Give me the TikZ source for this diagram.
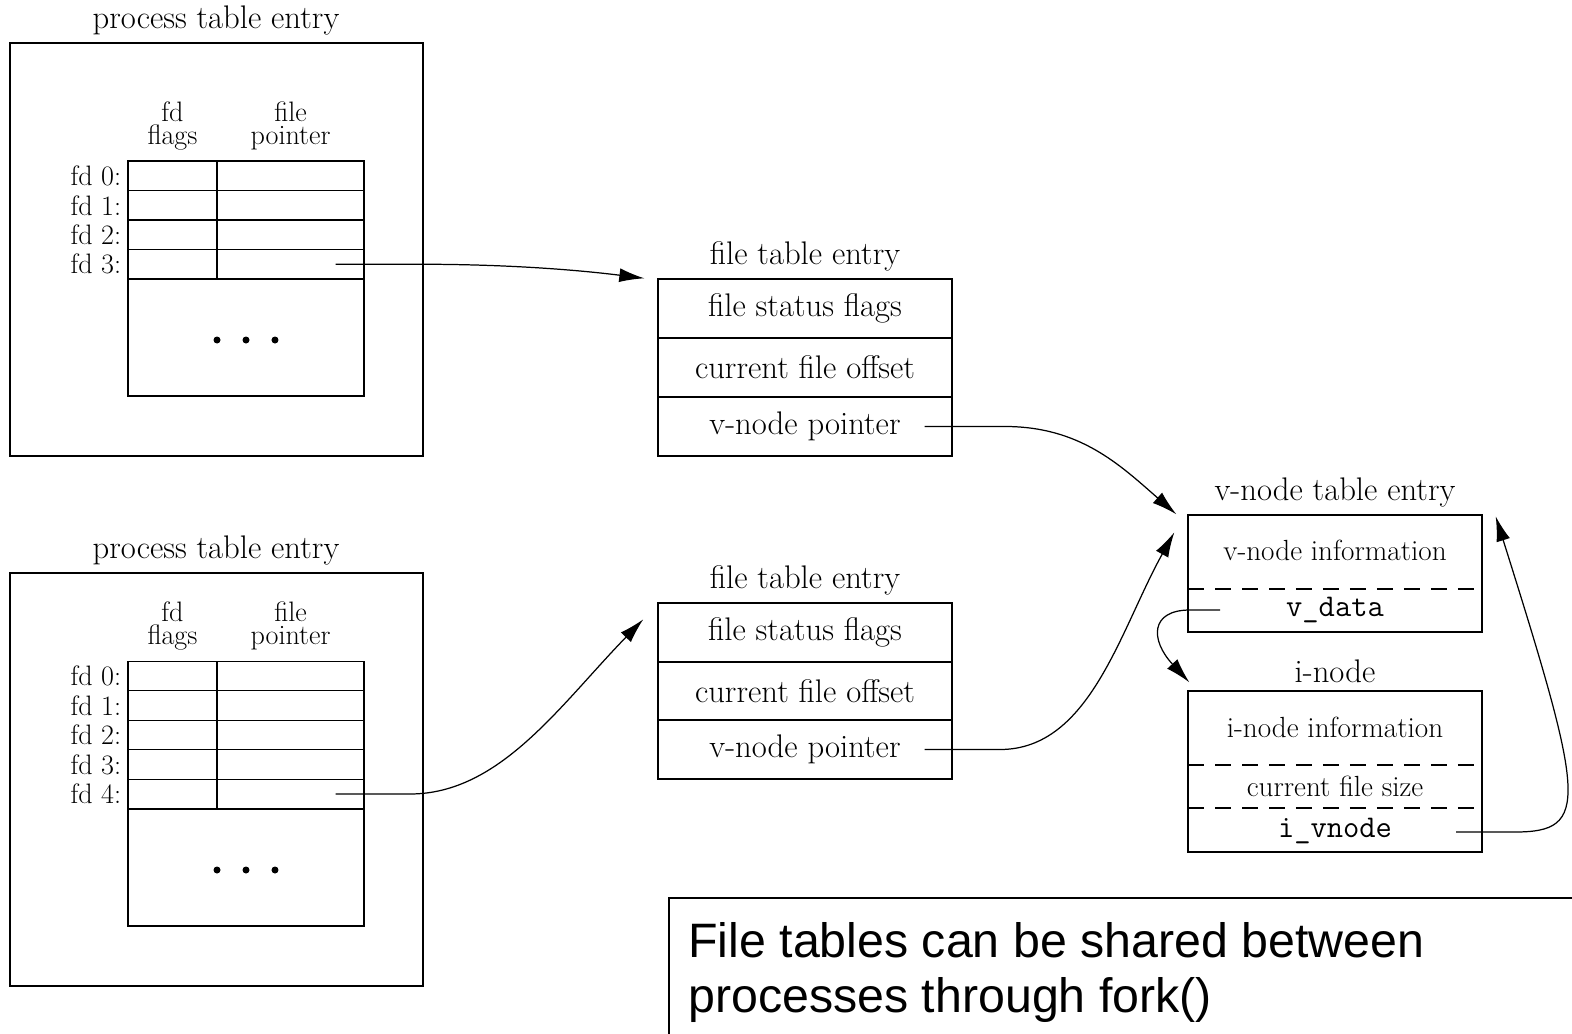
\documentclass[tikz,border=0pt]{standalone}
\usepackage{fontspec}
\usepackage{tikz}
\usetikzlibrary{calc}
\usetikzlibrary{arrows.meta}
\usetikzlibrary{positioning}
\newfontfamily\notefont{Liberation Sans}
\tikzset{>={Latex[length=0.5cm, width=0.28cm]}}
\tikzstyle{box} = [rectangle, draw=black, line width=0.8pt, inner sep=0pt]
\tikzstyle{cell} = [box, minimum height=0.59cm]
\tikzstyle{row} = [box, minimum width=5.88cm, minimum height=1.18cm, font=\fontsize{18.6}{20}\selectfont]
\tikzstyle{head} = [font=\fontsize{18.6}{20}\selectfont]
\tikzstyle{lbl} = [font=\fontsize{16}{18}\selectfont]
\tikzstyle{colhead} = [align=center, inner sep=0pt, font=\fontsize{16}{13}\selectfont]
\tikzstyle{info} = [font=\fontsize{16.6}{18}\selectfont]
\tikzstyle{code} = [font=\ttfamily\fontsize{18}{20}\selectfont]
\tikzstyle{sep} = [line width=0.8pt, dash pattern=on 0.32cm off 0.22cm]
\tikzstyle{ptr} = [->, line width=0.7pt]
\tikzstyle{notetxt} = [anchor=base west, inner sep=0pt, font=\notefont\fontsize{27.5}{31}\selectfont]

\begin{document}
\begin{tikzpicture}[x=0.02cm, y=-0.02cm]
\useasboundingbox (0,0) rectangle (1572,1034);

\node [head] (ta) at (216,20) {process table entry};
\node [box, minimum width=8.26cm, minimum height=8.26cm] (proca) at (216.5,249.5) {};
\node [colhead] (hfa) at (172.5,126) {fd\\flags};
\node [colhead] (hpa) at (290.5,126) {file\\pointer};
\foreach \i in {0,...,3} {
  \node [cell, minimum width=1.78cm] (fa\i) at (172.5,{175.75+29.5*\i}) {};
  \node [cell, minimum width=2.94cm] (pa\i) at (290.5,{175.75+29.5*\i}) {};
  \node [lbl, anchor=east] (la\i) at (fa\i.west) {fd \i:};
}
\node [box, minimum width=4.72cm, minimum height=2.34cm] (dotsa) at (246,337.5) {};
\foreach \dx in {-1,0,1}
  \fill ([xshift=\dx*0.58cm, yshift=-0.05cm]dotsa.center) circle (0.07cm);

\node [head] (tb) at (216,550) {process table entry};
\node [box, minimum width=8.26cm, minimum height=8.26cm] (procb) at (216.5,779.5) {};
\node [colhead] (hfb) at (172.5,626) {fd\\flags};
\node [colhead] (hpb) at (290.5,626) {file\\pointer};
\foreach \i in {0,...,4} {
  \node [cell, minimum width=1.78cm] (fb\i) at (172.5,{676+29.5*\i}) {};
  \node [cell, minimum width=2.94cm] (pb\i) at (290.5,{676+29.5*\i}) {};
  \node [lbl, anchor=east] (lb\i) at (fb\i.west) {fd \i:};
}
\node [box, minimum width=4.72cm, minimum height=2.34cm] (dotsb) at (246,867.5) {};
\foreach \dx in {-1,0,1}
  \fill ([xshift=\dx*0.58cm, yshift=-0.05cm]dotsb.center) circle (0.07cm);

\node [head] (tf1) at (805,256) {file table entry};
\node [row] (fs1) at (805,308.5) {file status flags};
\node [row] (fo1) at (805,367.5) {current file offset};
\node [row] (vp1) at (805,426.5) {v-node pointer};

\node [head] (tf2) at (805,580) {file table entry};
\node [row] (fs2) at (805,632.5) {file status flags};
\node [row] (fo2) at (805,691) {current file offset};
\node [row] (vp2) at (805,749.5) {v-node pointer};

\node [head] (tv) at (1335,492) {v-node table entry};
\node [box, minimum width=5.88cm, minimum height=2.34cm] (vn) at (1335,573.5) {};
\node [info] (vinfo) at (1335,550) {v-node information};
\draw [sep] (1188,589) -- (1482,589);
\node [code] (vdata) at (1335,610) {v\_data};

\node [head] (ti) at (1335,671) {i-node};
\node [box, minimum width=5.88cm, minimum height=3.22cm] (in) at (1335,771.5) {};
\node [info] (iinfo) at (1335,727) {i-node information};
\draw [sep] (1188,765) -- (1482,765);
\node [info] (isize) at (1335,786) {current file size};
\draw [sep] (1188,808) -- (1482,808);
\node [code] (ivn) at (1335,831) {i\_vnode};

\coordinate (sa) at ([xshift=-0.58cm]pa3.east);
\coordinate (sb) at ([xshift=-0.58cm]pb4.east);
\coordinate (sv1) at ([xshift=-0.56cm]vp1.east);
\coordinate (sv2) at ([xshift=-0.56cm]vp2.east);
\coordinate (sd) at (1220,610);
\coordinate (si) at (1456,832);

\draw [ptr] (sa) -- (420,264.25) .. controls (500,264.25) and (570,269) .. ([xshift=-0.26cm]fs1.north west);
\draw [ptr] (sb) -- (410,794) .. controls (500,794) and (560,705) .. ([xshift=-0.28cm, yshift=-0.34cm]fs2.north west);
\draw [ptr] (sv1) -- (1005,426.5) .. controls (1080,426.5) and (1120,465) .. ([xshift=-0.22cm]vn.north west);
\draw [ptr] (sv2) -- (1000,749.5) .. controls (1090,749.5) and (1120,630) .. ([xshift=-0.26cm, yshift=-0.36cm]vn.north west);
\draw [ptr] (sd) -- (1190,610) .. controls (1150,610) and (1150,640) .. ([xshift=0.04cm, yshift=0.16cm]in.north west);
\draw [ptr] (si) -- (1515,832) .. controls (1590,832) and (1585,800) .. ([xshift=0.26cm, yshift=-0.04cm]vn.north east);

\node [box, anchor=north west, line width=1pt, minimum width=18.7cm, minimum height=3.5cm] (note) at (668,897) {};
\node [notetxt] (note1) at (688,957) {File tables can be shared between};
\node [notetxt] (note2) at (688,1012) {processes through fork()};
\end{tikzpicture}
\end{document}
